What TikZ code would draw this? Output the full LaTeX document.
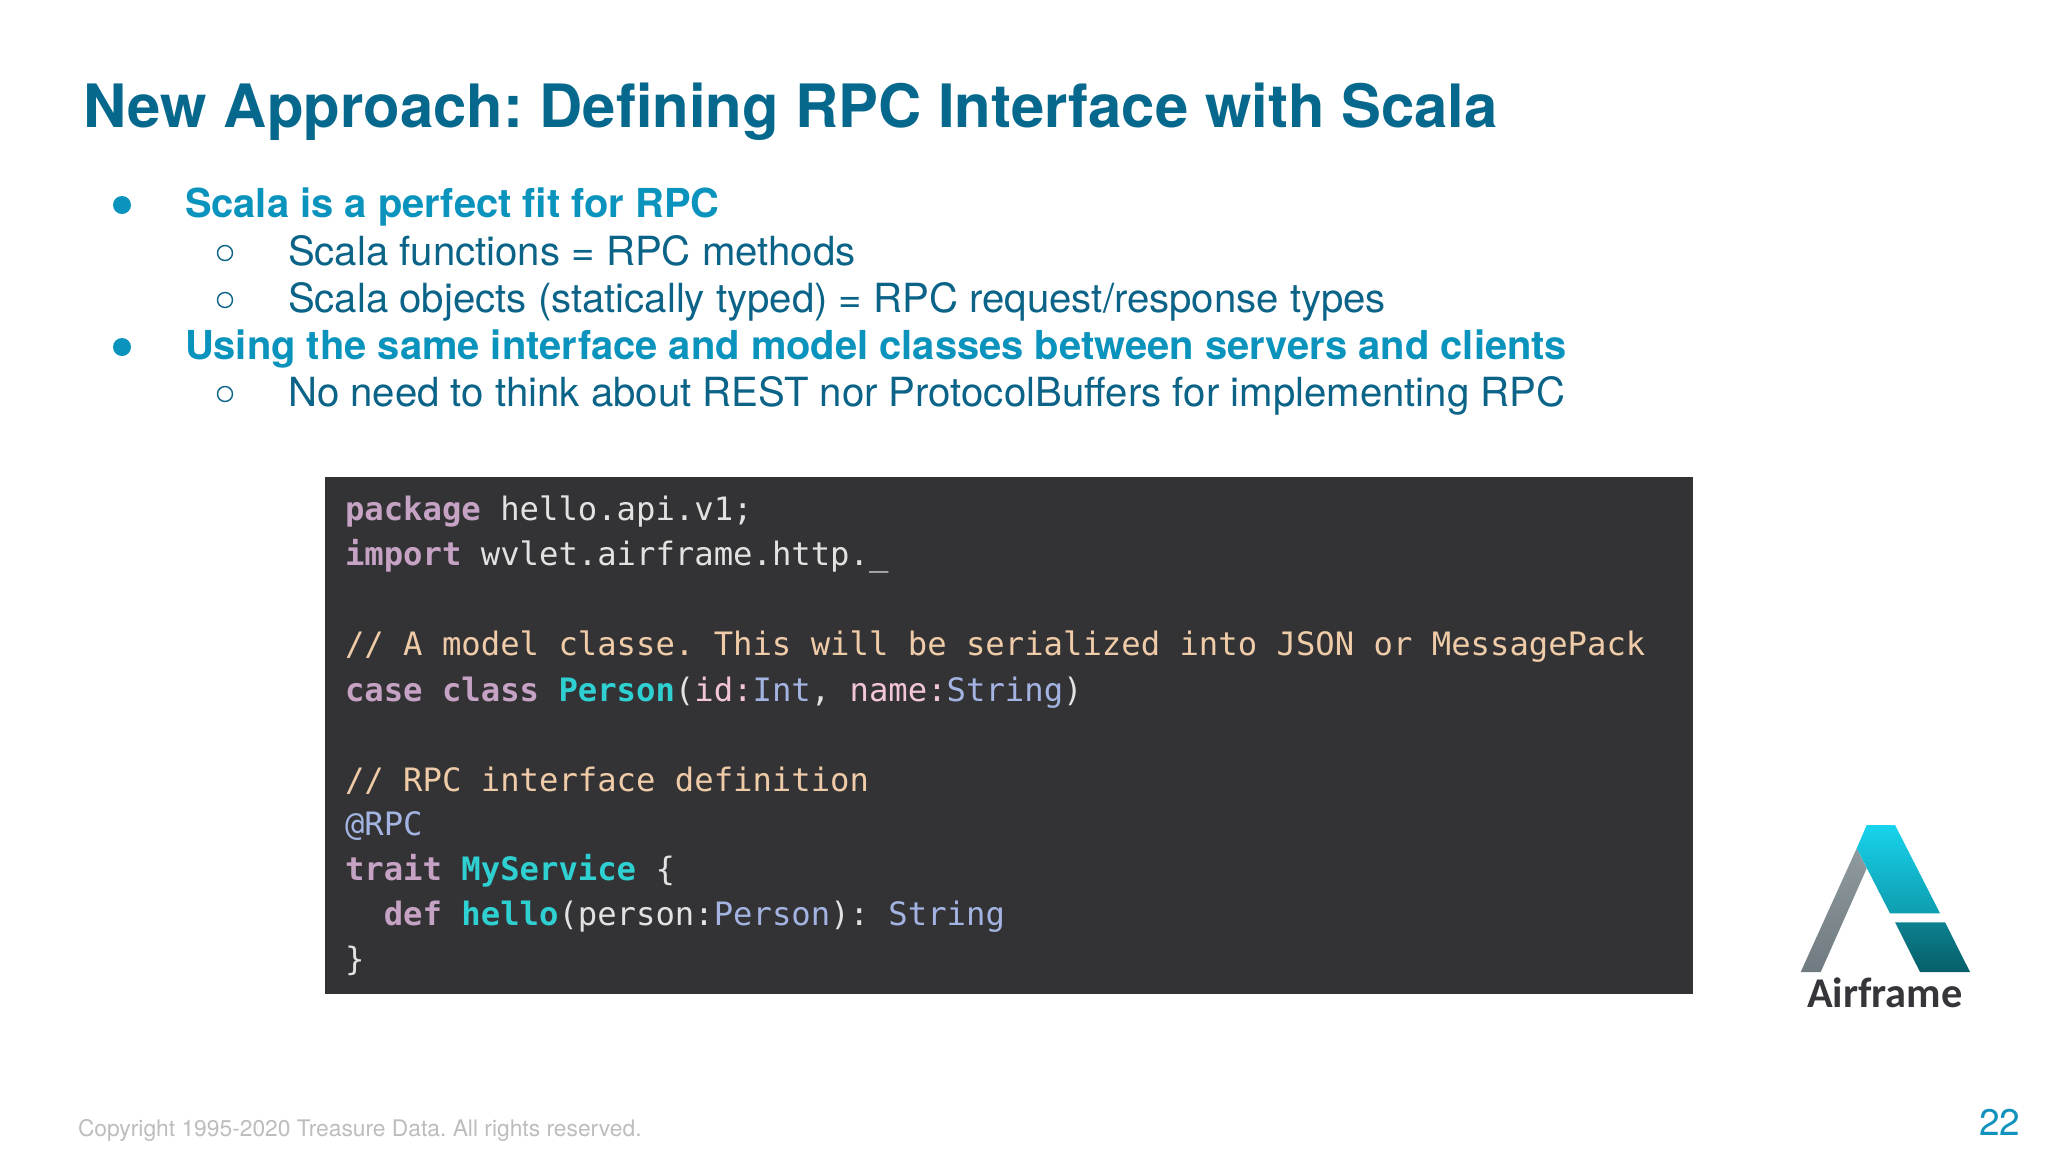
\documentclass[tikz,border=0pt]{standalone}
\usepackage{fontspec}
\setmainfont{TeX Gyre Heros}
\setmonofont{DejaVu Sans Mono}
\newfontfamily\logofont{Carlito}
\definecolor{titlec}{HTML}{06688C}
\definecolor{boldc}{HTML}{0A93BC}
\definecolor{bodyc}{HTML}{0B6488}
\definecolor{footc}{HTML}{BDBDBD}
\definecolor{pagec}{HTML}{1192BC}
\definecolor{codebg}{HTML}{333335}
\definecolor{kw}{HTML}{C6A2C4}
\definecolor{pl}{HTML}{E2E2E2}
\definecolor{cm}{HTML}{EFCBA8}
\definecolor{ty}{HTML}{A3B4E2}
\definecolor{fn}{HTML}{2FD0D2}
\definecolor{pa}{HTML}{F2C6D6}
\definecolor{greytop}{HTML}{8F9A9F}
\definecolor{greybot}{HTML}{6F7B80}
\definecolor{tealtop}{HTML}{17D3EC}
\definecolor{tealmid}{HTML}{0F9DB0}
\definecolor{teallow}{HTML}{0D8090}
\definecolor{tealbot}{HTML}{055F68}
\definecolor{logotext}{HTML}{36363A}
\newcommand{\K}[1]{\textcolor{kw}{\bfseries #1}}
\newcommand{\Pl}[1]{\textcolor{pl}{#1}}
\newcommand{\Cm}[1]{\textcolor{cm}{#1}}
\newcommand{\Ty}[1]{\textcolor{ty}{#1}}
\newcommand{\Fn}[1]{\textcolor{fn}{\bfseries #1}}
\newcommand{\Pa}[1]{\textcolor{pa}{#1}}
\tikzset{
  x=0.5pt,y=-0.5pt,
  txt/.style={inner sep=0pt,outer sep=0pt,anchor=base west},
  titletext/.style={txt,font=\frenchspacing\fontsize{29.9pt}{36pt}\selectfont\bfseries,text=titlec},
  lead/.style={txt,font=\fontsize{19.95pt}{24pt}\selectfont\bfseries,text=boldc},
  sub/.style={txt,font=\fontsize{20.08pt}{24pt}\selectfont,text=bodyc},
  code/.style={txt,font=\ttfamily\fontsize{16.12pt}{20pt}\selectfont},
  solidbullet/.style={circle,fill=boldc,inner sep=0pt,minimum size=9pt},
  hollowbullet/.style={circle,draw=bodyc,line width=0.7pt,fill=none,inner sep=0pt,minimum size=7.5pt},
}
\begin{document}
\begin{tikzpicture}
\useasboundingbox[fill=white] (0,0) rectangle (2048,1152);
\node[titletext] (title) at (83.5,127) {New Approach: Defining RPC Interface with Scala};
\node[solidbullet] (b1) at (122,205) {};
\node[lead] (l1) at (185,217) {Scala is a perfect fit for RPC};
\node[hollowbullet] (b2) at (225,253) {};
\node[sub] (l2) at (288,265) {Scala functions = RPC methods};
\node[hollowbullet] (b3) at (225,300) {};
\node[sub] (l3) at (288,312) {Scala objects (statically typed) = RPC request/response types};
\node[solidbullet] (b4) at (122,347) {};
\node[lead] (l4) at (185,359) {Using the same interface and model classes between servers and clients};
\node[hollowbullet] (b5) at (225,394) {};
\node[sub] (l5) at (288,406) {No need to think about REST nor ProtocolBuffers for implementing RPC};
\fill[codebg] (325,477) rectangle (1693,994);
\node[code] (c1) at (345,520.5) {\K{package} \Pl{hello.api.v1;}};
\node[code] (c2) at (345,565) {\K{import} \Pl{wvlet.airframe.http.\_}};
\node[code] (c3) at (345,655) {\Cm{// A model classe. This will be serialized into JSON or MessagePack}};
\node[code] (c4) at (345,701) {\K{case class} \Fn{Person}\Pl{(}\Pa{id:}\Ty{Int}\Pl{,} \Pa{name:}\Ty{String}\Pl{)}};
\node[code] (c5) at (345,791) {\Cm{// RPC interface definition}};
\node[code] (c6) at (345,835) {\Ty{@RPC}};
\node[code] (c7) at (345,880.5) {\K{trait} \Fn{MyService} \Pl{\{}};
\node[code] (c8) at (345,925) {\ \ \K{def} \Fn{hello}\Pl{(person:}\Ty{Person}\Pl{):} \Ty{String}};
\node[code] (c9) at (345,970) {\Pl{\}}};
% logo
\shade[top color=greytop,bottom color=greybot] (1856.7,848.3) -- (1866.7,868.3) -- (1820.7,972) -- (1800.7,972) -- cycle;
\shade[top color=tealtop,bottom color=tealmid] (1866.7,825) -- (1895,825) -- (1940,913.3) -- (1890,913.3) -- (1856.7,848.3) -- cycle;
\shade[top color=teallow,bottom color=tealbot] (1895,922.3) -- (1945,922.3) -- (1970,972) -- (1920,972) -- cycle;
\node[txt,text=logotext,font=\logofont\fontsize{21.2pt}{24pt}\selectfont\bfseries] (logo) at (1807,1007) {Airframe};
\node[txt,text=footc,font=\frenchspacing\fontsize{11.4pt}{14pt}\selectfont] (foot) at (78,1136) {Copyright 1995-2020 Treasure Data. All rights reserved.};
\node[txt,text=pagec,font=\fontsize{18.5pt}{22pt}\selectfont] (page) at (1979,1135) {22};
\end{tikzpicture}
\end{document}
